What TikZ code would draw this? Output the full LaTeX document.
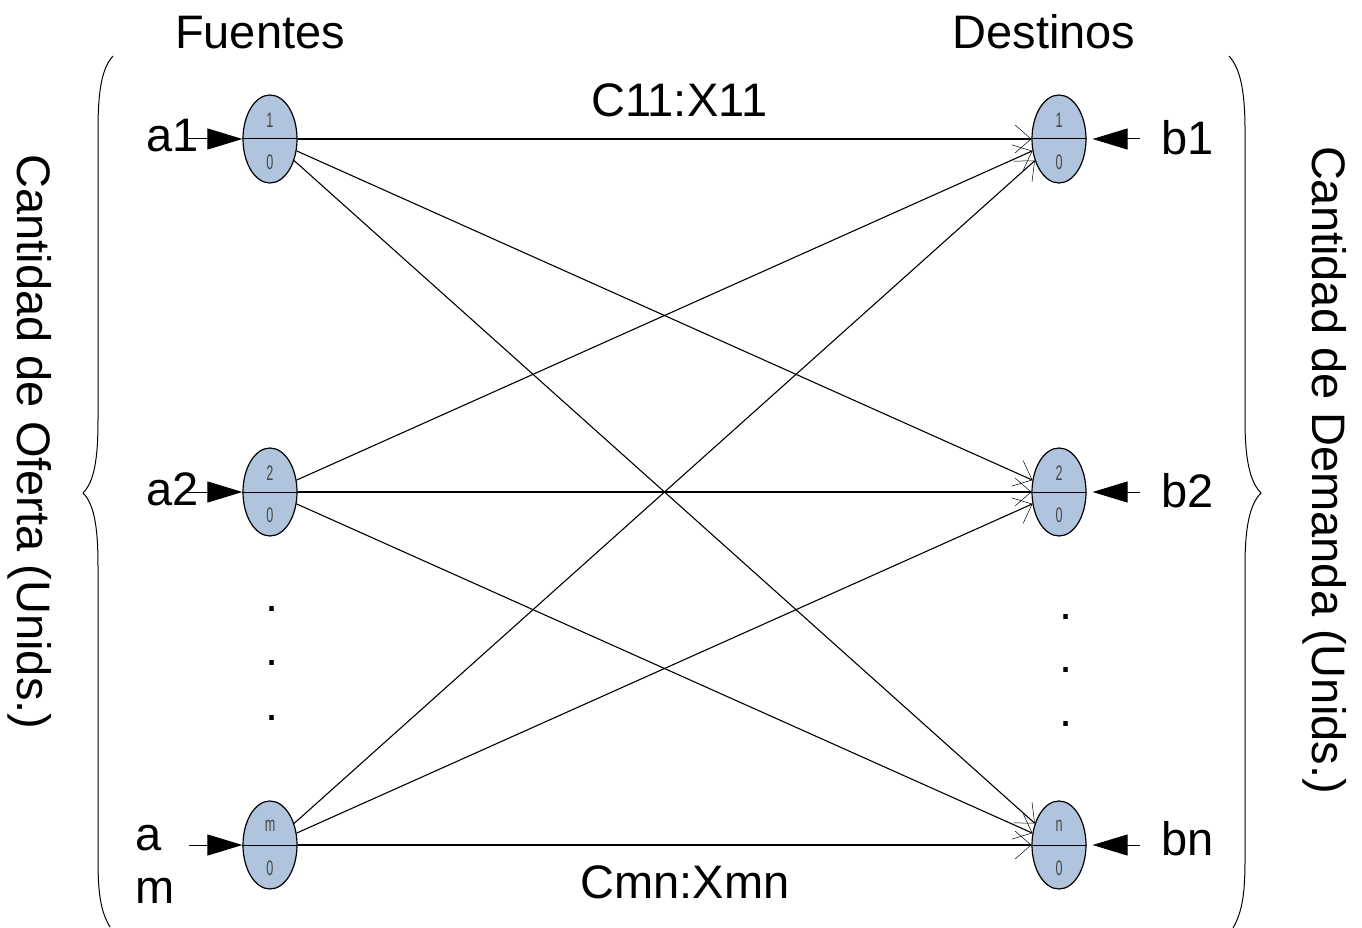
\documentclass[tikz,border=0pt]{standalone}
\usepackage{fontspec}
\setmainfont{Liberation Sans}
\usetikzlibrary{shapes.geometric,arrows.meta}
\definecolor{nodefill}{RGB}{176,196,222}
\definecolor{digitgray}{RGB}{70,70,70}
\begin{document}
\begin{tikzpicture}[x=1pt,y=-1pt,
  big/.style={font=\fontsize{47}{53}\selectfont, inner sep=0pt},
  netnode/.style={ellipse, draw=black, line width=1.2pt, fill=nodefill,
    minimum width=54pt, minimum height=88pt, inner sep=0pt},
  digit/.style={font=\fontsize{21}{21}\selectfont, text=digitgray, inner sep=0pt, xscale=0.6},
  flow/.style={line width=1.1pt, -{Straight Barb[length=16pt,width=28pt,line width=0.5pt]}},
  feed/.style={line width=1pt, -{Triangle[length=35pt,width=21pt]}},
  brace/.style={line width=1pt}]
\useasboundingbox (0,0) rectangle (1362,928);

% sources and destinations
\foreach \n/\y/\d in {s1/139/1, s2/492/2, sm/845/m}{
  \node[netnode] (\n) at (270,\y) {};
  \draw[line width=1pt] (\n.west) -- (\n.east);
  \node[digit] at (270,\y-19) {\d};
  \node[digit] at (270,\y+23) {0};
}
\foreach \n/\y/\d in {t1/139/1, t2/492/2, tn/845/n}{
  \node[netnode] (\n) at (1059,\y) {};
  \draw[line width=1pt] (\n.west) -- (\n.east);
  \node[digit] at (1059,\y-19) {\d};
  \node[digit] at (1059,\y+23) {0};
}

% transport arcs
\draw[flow] (s1) -- node[big, pos=0.52, anchor=base, yshift=22pt] (c11) {C11:X11} (t1);
\draw[flow] (s1) -- (t2);
\draw[flow] (s1) -- (tn);
\draw[flow] (s2) -- (t1);
\draw[flow] (s2) -- (t2);
\draw[flow] (s2) -- (tn);
\draw[flow] (sm) -- (t1);
\draw[flow] (sm) -- (t2);
\draw[flow] (sm) -- node[big, pos=0.528, anchor=base, yshift=-53pt] (cmn) {Cmn:Xmn} (tn);

% supplies
\coordinate (ia1) at (187,139);
\coordinate (ia2) at (187,492);
\coordinate (iam) at (189,845);
\draw[feed] (ia1) -- (s1.west);
\draw[feed] (ia2) -- (s2.west);
\draw[feed] (iam) -- (sm.west);
\node[big, anchor=base west] (la1) at (146,152) {a1};
\node[big, anchor=base west] (la2) at (146,505) {a2};
\node[big, anchor=base west] (lam1) at (135,850) {a};
\node[big, anchor=base west] (lam2) at (135,903) {m};

% demands
\coordinate (ib1) at (1140,139);
\coordinate (ib2) at (1140,492);
\coordinate (ibn) at (1140,845);
\draw[feed, shorten >=6pt] (ib1) -- (t1.east);
\draw[feed, shorten >=6pt] (ib2) -- (t2.east);
\draw[feed, shorten >=6pt] (ibn) -- (tn.east);
\node[big, anchor=base west] (lb1) at (1161,155) {b1};
\node[big, anchor=base west] (lb2) at (1161,507) {b2};
\node[big, anchor=base west] (lbn) at (1161,855) {bn};

% headings
\node[big, anchor=base] (fu) at (260,49) {Fuentes};
\node[big, anchor=base] (de) at (1044,49) {Destinos};

% ellipsis dots
\foreach \yy [count=\i] in {611,665,720}{
  \node[big, anchor=base] (ld\i) at (272,\yy) {.};
}
\foreach \yy [count=\i] in {619,672,726}{
  \node[big, anchor=base] (rd\i) at (1066,\yy) {.};
}

% braces
\draw[brace] (113,56) .. controls (102,68) and (98,90) .. (98,130)
  -- (98,420) .. controls (98,460) and (94,482) .. (83,493)
  .. controls (94,504) and (98,526) .. (98,566)
  -- (98,860) .. controls (98,895) and (101,912) .. (110,927);
\draw[brace] (1229,56) .. controls (1240,68) and (1245,90) .. (1245,130)
  -- (1245,420) .. controls (1245,460) and (1250,482) .. (1261,493)
  .. controls (1250,504) and (1245,526) .. (1245,566)
  -- (1245,860) .. controls (1245,895) and (1242,912) .. (1233,928);

% quantity labels
\node[big, rotate=-90] (of) at (30,442) {Cantidad de Oferta (Unids.)};
\node[big, rotate=-90] (dm) at (1325,470) {Cantidad de Demanda (Unids.)};
\end{tikzpicture}
\end{document}
